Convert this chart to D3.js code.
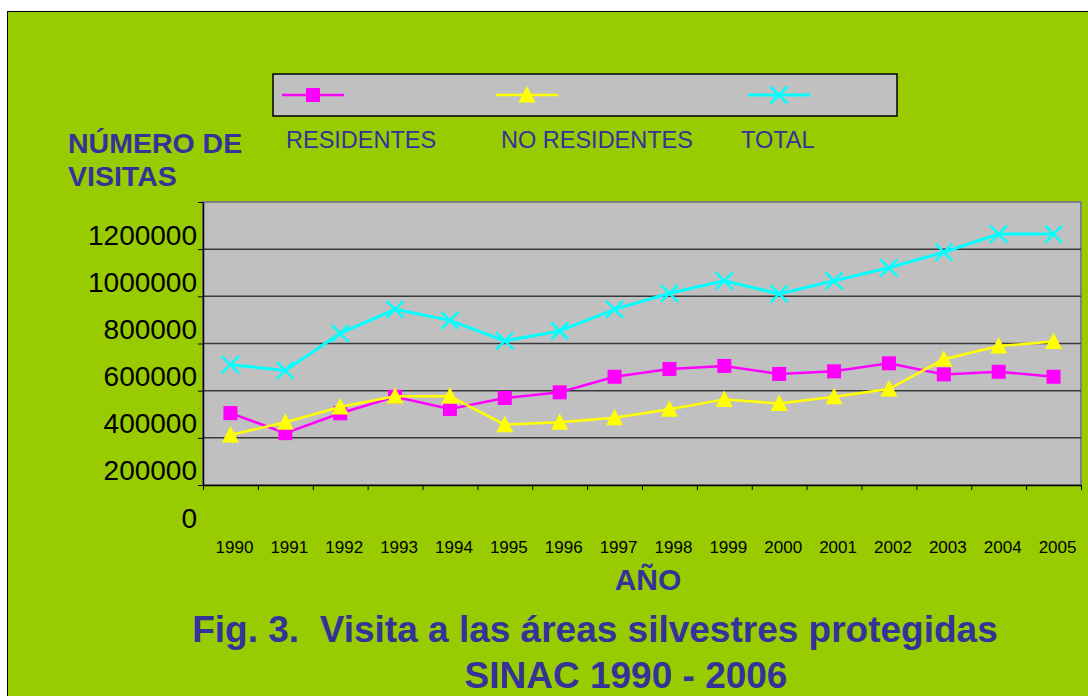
<!DOCTYPE html>
<html lang="es">
<head>
	<meta charset="UTF-8">
	<title>Visita a las áreas silvestres protegidas</title>
	<script src="https://cdn.jsdelivr.net/npm/d3@7/dist/d3.min.js"></script>
	<style>
		html, body { margin: 0; padding: 0; background: #ffffff; }
		svg { display: block; font-family: "Liberation Sans", Arial, sans-serif; }
	</style>
</head>
<body>
<svg width="1088" height="696"></svg>
<script>
	// values
	const years = ["1990","1991","1992","1993","1994","1995","1996","1997","1998","1999","2000","2001","2002","2003","2004","2005"];
	const residentes = [305000, 220000, 304000, 374000, 322000, 369000, 393000, 459000, 492000, 505000, 471000, 482000, 516000, 469000, 480000, 459000];
	const noResidentes = [212000, 266000, 331000, 376000, 376000, 256000, 266000, 285000, 321000, 363000, 346000, 374000, 407000, 533000, 589000, 608000];
	const total = [510000, 486000, 643000, 745000, 698000, 611000, 653000, 745000, 813000, 866000, 810000, 866000, 921000, 987000, 1064000, 1064000];
	const yTicks = [0, 200000, 400000, 600000, 800000, 1000000, 1200000];
	const seriesNames = ["RESIDENTES", "NO RESIDENTES", "TOTAL"];

	const navy = "#333399";
	const svg = d3.select("svg");

	// green chart background
	svg.append("rect")
		.attr("x", 7.5).attr("y", 11.5)
		.attr("width", 1100).attr("height", 700)
		.attr("fill", "#99cc00")
		.attr("stroke", "#000").attr("stroke-width", 1);

	const plot = { left: 203, right: 1081, top: 202, bottom: 485 };

	const x = d3.scaleBand().domain(years).range([plot.left, plot.right]).padding(0);
	const xEdge = d3.scaleLinear().domain([0, years.length]).range([plot.left, plot.right]);
	const y = d3.scaleLinear().domain([0, 1200000]).range([plot.bottom, plot.top]);

	// plot area
	svg.append("rect")
		.attr("x", plot.left).attr("y", plot.top)
		.attr("width", plot.right - plot.left).attr("height", plot.bottom - plot.top)
		.attr("fill", "#c0c0c0")
		.attr("stroke", "#808080").attr("stroke-width", 2);

	// gridlines
	svg.append("g")
		.selectAll("line")
		.data(yTicks.filter(d => d > 0 && d < 1200000))
		.enter()
		.append("line")
		.attr("x1", plot.left).attr("x2", plot.right)
		.attr("y1", d => y(d)).attr("y2", d => y(d))
		.attr("stroke", "#3a3a3a").attr("stroke-width", 1.5);

	// y axis, labels sit lower than their ticks like in the original
	const yAxis = svg.append("g")
		.attr("transform", `translate(${plot.left},0)`)
		.call(d3.axisLeft(y).tickValues(yTicks).tickSize(5).tickPadding(1).tickSizeOuter(0)
			.tickFormat(d => String(d)));
	yAxis.select(".domain").attr("stroke", "#000").attr("stroke-width", 1.5);
	yAxis.selectAll(".tick line").attr("stroke", "#000");
	yAxis.selectAll("text")
		.attr("dy", null)
		.attr("y", 42)
		.attr("fill", "#000")
		.style("font-size", "28px");

	// x axis: tick marks at category edges
	const xTicks = svg.append("g")
		.attr("transform", `translate(0,${plot.bottom})`)
		.call(d3.axisBottom(xEdge).tickValues(d3.range(0, years.length + 1)).tickSize(5).tickSizeOuter(0).tickFormat(""));
	xTicks.select(".domain").attr("stroke", "#000").attr("stroke-width", 1.5);
	xTicks.selectAll(".tick line").attr("stroke", "#000");

	// x labels at category centres
	const xLabels = svg.append("g")
		.attr("transform", `translate(4,${plot.bottom})`)
		.call(d3.axisBottom(x).tickSize(0).tickPadding(0));
	xLabels.select(".domain").remove();
	xLabels.selectAll("text")
		.attr("dy", null)
		.attr("y", 68)
		.attr("fill", "#000")
		.style("font-size", "17px");

	// series
	const series = [
		{ name: seriesNames[0], values: residentes, color: "#ff00ff", marker: "square", width: 2.5 },
		{ name: seriesNames[1], values: noResidentes, color: "#ffff00", marker: "triangle", width: 2.5 },
		{ name: seriesNames[2], values: total, color: "#00ffff", marker: "x", width: 3 }
	];

	const line = d3.line()
		.x((d, i) => x(years[i]) + x.bandwidth() / 2)
		.y(d => y(d));

	function drawMarker(g, type, color) {
		if (type === "square") {
			g.append("rect")
				.attr("x", -7).attr("y", -7).attr("width", 14).attr("height", 14)
				.attr("fill", color);
		} else if (type === "triangle") {
			g.append("path")
				.attr("d", "M0,-9L8.5,7.5L-8.5,7.5Z")
				.attr("fill", color);
		} else {
			g.append("path")
				.attr("d", "M-8.5,-8.5L8.5,8.5M-8.5,8.5L8.5,-8.5")
				.attr("stroke", color).attr("stroke-width", 2.5).attr("fill", "none");
		}
	}

	series.forEach(s => {
		svg.append("path")
			.attr("d", line(s.values))
			.attr("fill", "none")
			.attr("stroke", s.color)
			.attr("stroke-width", s.width);
		svg.append("g")
			.selectAll("g")
			.data(s.values)
			.enter()
			.append("g")
			.attr("transform", (d, i) => `translate(${x(years[i]) + x.bandwidth() / 2},${y(d)})`)
			.each(function () { drawMarker(d3.select(this), s.marker, s.color); });
	});

	// legend
	svg.append("rect")
		.attr("x", 273).attr("y", 74)
		.attr("width", 624).attr("height", 42)
		.attr("fill", "#c0c0c0")
		.attr("stroke", "#000").attr("stroke-width", 1.5);

	const legendX = [282, 496, 748];
	const legendTextX = [286, 501, 741];
	const legend = svg.append("g")
		.selectAll("g")
		.data(series)
		.enter()
		.append("g");

	legend.append("line")
		.attr("x1", (d, i) => legendX[i]).attr("x2", (d, i) => legendX[i] + 62)
		.attr("y1", 95).attr("y2", 95)
		.attr("stroke", d => d.color).attr("stroke-width", d => d.width);
	legend.append("g")
		.attr("transform", (d, i) => `translate(${legendX[i] + 31},95)`)
		.each(function (d) { drawMarker(d3.select(this), d.marker, d.color); });
	legend.append("text")
		.attr("x", (d, i) => legendTextX[i])
		.attr("y", 148)
		.attr("fill", navy)
		.style("font-size", "23.5px")
		.text(d => d.name);

	// axis titles and figure title
	const ytitle = svg.append("text")
		.attr("fill", navy)
		.style("font-size", "28.5px")
		.style("font-weight", "bold");
	ytitle.append("tspan").attr("x", 68).attr("y", 153).text("NÚMERO DE");
	ytitle.append("tspan").attr("x", 68).attr("y", 186).text("VISITAS");

	svg.append("text")
		.attr("x", 648).attr("y", 590)
		.attr("text-anchor", "middle")
		.attr("fill", navy)
		.style("font-size", "30px")
		.style("font-weight", "bold")
		.text("AÑO");

	svg.append("text")
		.attr("x", 595).attr("y", 642)
		.attr("text-anchor", "middle")
		.attr("fill", navy)
		.style("font-size", "37px")
		.style("font-weight", "bold")
		.style("white-space", "pre")
		.text("Fig. 3.  Visita a las áreas silvestres protegidas");

	svg.append("text")
		.attr("x", 626).attr("y", 688)
		.attr("text-anchor", "middle")
		.attr("fill", navy)
		.style("font-size", "37px")
		.style("font-weight", "bold")
		.text("SINAC 1990 - 2006");
</script>
</body>
</html>
